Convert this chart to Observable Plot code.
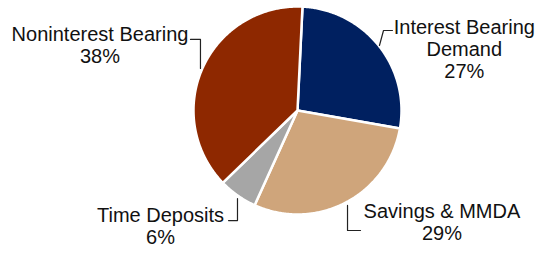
<!DOCTYPE html>
<html><head><meta charset="utf-8">
<script src="https://cdn.jsdelivr.net/npm/d3@7"></script>
<script src="https://cdn.jsdelivr.net/npm/@observablehq/plot@0.6"></script>
<style>html,body{margin:0;padding:0;background:#fff}#chart svg{display:block}</style>
</head><body><div id="chart"></div>
<script>
// ---- data ----
const categories = ["Interest Bearing Demand", "Savings & MMDA", "Time Deposits", "Noninterest Bearing"];
const shares = [27, 29, 6, 38];
const labelLines = [["Interest Bearing", "Demand"], ["Savings & MMDA"], ["Time Deposits"], ["Noninterest Bearing"]];
const sliceColors = ["#002060", "#CFA57B", "#A6A6A6", "#8E2800"];

// ---- layout (pie in unit radius coordinates) ----
const W = 537, H = 257, cx = 297, cy = 110, R = 104;
const startAngle = 2.75 * Math.PI / 180;

const arcs = d3.pie().sort(null).value(d => d).startAngle(startAngle).endAngle(startAngle + 2 * Math.PI)(shares);
const polys = [];
arcs.forEach((a, i) => {
  const name = categories[i];
  polys.push({name, x: 0, y: 0});
  const n = Math.max(2, Math.ceil((a.endAngle - a.startAngle) / 0.01));
  for (let k = 0; k <= n; k++) {
    const t = a.startAngle + (a.endAngle - a.startAngle) * k / n;
    polys.push({name, x: Math.sin(t), y: Math.cos(t)});
  }
  polys.push({name, x: 0, y: 0});
});

// label placement (unit coordinates relative to pie center, y up)
const labelPos = [
  {x: 1.604, y: 0.885},   // Interest Bearing Demand
  {x: 1.389, y: -0.885},  // Savings & MMDA
  {x: -1.317, y: -0.923}, // Time Deposits
  {x: -1.899, y: 0.817}   // Noninterest Bearing
];
const labels = categories.map((c, i) => ({
  name: c,
  text: [...labelLines[i], shares[i] + "%"].join("\n"),
  ...labelPos[i]
}));

const leaderPaths = [
  [[0.913, 0.769], [0.827, 0.769], [0.788, 0.625]],
  [[0.481, -0.913], [0.481, -1.154], [0.606, -1.154]],
  [[-0.663, -1.058], [-0.577, -1.058], [-0.577, -0.846]],
  [[-1.029, 0.683], [-0.933, 0.683], [-0.933, 0.404]]
];
const leaders = leaderPaths.flatMap((p, i) => p.map(([x, y]) => ({name: categories[i], x, y})));

const chart = Plot.plot({
  width: W, height: H,
  margin: 0,
  x: {domain: [-cx / R, (W - cx) / R], range: [0, W], axis: null},
  y: {domain: [(cy - H) / R, cy / R], range: [H, 0], axis: null},
  color: {domain: categories, range: sliceColors},
  style: {fontFamily: "'Liberation Sans', Arial, sans-serif", background: "#fff"},
  marks: [
    Plot.line(polys, {x: "x", y: "y", z: "name", fill: "name", stroke: "#fff", strokeWidth: 2.5, strokeLinejoin: "round", curve: "linear"}),
    Plot.line(leaders, {x: "x", y: "y", z: "name", stroke: "#222", strokeWidth: 1.2}),
    Plot.text(labels, {x: "x", y: "y", text: "text", fontSize: 20, lineHeight: 1.1, lineAnchor: "top", textAnchor: "middle", fill: "#111"})
  ]
});
document.getElementById("chart").append(chart);
</script>
</body></html>
